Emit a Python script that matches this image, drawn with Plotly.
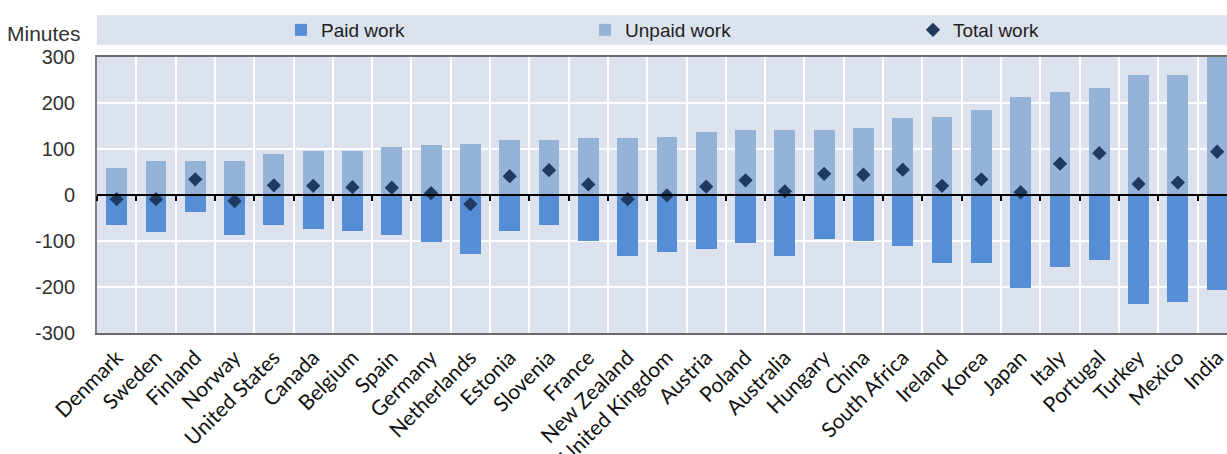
import plotly.graph_objects as go

countries = ["Denmark", "Sweden", "Finland", "Norway", "United States", "Canada", "Belgium",
             "Spain", "Germany", "Netherlands", "Estonia", "Slovenia", "France", "New Zealand",
             "United Kingdom", "Austria", "Poland", "Australia", "Hungary", "China",
             "South Africa", "Ireland", "Korea", "Japan", "Italy", "Portugal", "Turkey",
             "Mexico", "India"]

paid_work = [-65, -81, -38, -87, -65, -74, -78, -87, -102, -129, -78, -65, -99, -133,
             -123, -117, -105, -133, -95, -99, -111, -147, -147, -203, -157, -141, -236,
             -233, -206]

unpaid_work = [59, 74, 74, 74, 89, 96, 96, 105, 108, 111, 120, 120, 123, 123,
               126, 136, 141, 141, 141, 145, 167, 169, 184, 212, 224, 233, 260,
               260, 300]

total_work = [-9, -9, 34, -13, 21, 20, 17, 16, 4, -20, 41, 54, 23, -9,
              -1, 18, 32, 8, 46, 44, 55, 20, 34, 6, 68, 91, 24,
              27, 94]

y_ticks = [300, 200, 100, 0, -100, -200, -300]
y_tick_text = ["300", "200", "100", "0", "-100", "-200", "-300"]

PAID = "#558ED5"
UNPAID = "#95B3D7"
TOTAL = "#1F3A60"
BG = "#DCE3EF"
NARROW = "Liberation Sans Narrow, Arial Narrow, Liberation Sans, sans-serif"

fig = go.Figure()
fig.add_trace(go.Bar(x=countries, y=paid_work, name="Paid work", marker_color=PAID,
                     marker_line_width=0, width=0.53, legend="legend"))
fig.add_trace(go.Bar(x=countries, y=unpaid_work, name="Unpaid work", marker_color=UNPAID,
                     marker_line_width=0, width=0.53, legend="legend2"))
fig.add_trace(go.Scatter(x=countries, y=total_work, name="Total work", mode="markers",
                         marker=dict(symbol="diamond", size=11, color=TOTAL),
                         legend="legend3"))
# helper axis that draws the zero line with boundary ticks
fig.add_trace(go.Scatter(x=[], y=[], xaxis="x2", showlegend=False, hoverinfo="skip"))

n = len(countries)
xr = [-0.5, n - 0.75]
ly = (333 - 30) / 276
lfont = dict(family=NARROW, size=19, color="#222222")

fig.update_layout(
    width=1227, height=454,
    margin=dict(l=97, r=0, t=57, b=121, autoexpand=False),
    paper_bgcolor="white",
    plot_bgcolor=BG,
    barmode="relative",
    bargap=0,
    showlegend=True,
    xaxis=dict(
        type="category", categoryorder="array", categoryarray=countries,
        range=xr, tickson="boundaries", ticks="", tickangle=-45,
        ticklabelshift=0, ticklabelstandoff=2,
        showgrid=True, gridcolor="white", gridwidth=2,
        showline=True, mirror=True, linecolor="#6b6b6b", linewidth=2,
        tickfont=dict(family="Lato, Open Sans, sans-serif", size=21, color="#111111"),
        automargin=False,
    ),
    xaxis2=dict(
        overlaying="x", anchor="free", position=0.5, range=xr, type="linear",
        tickvals=[k - 0.5 for k in range(n)], showticklabels=False,
        ticks="outside", ticklen=5, tickwidth=1.5, tickcolor="black",
        showgrid=False, zeroline=False, showline=True, linecolor="black", linewidth=2,
    ),
    yaxis=dict(
        range=[-300, 300], tickvals=y_ticks, ticktext=y_tick_text,
        showgrid=True, gridcolor="white", gridwidth=2, zeroline=False,
        showline=True, linecolor="#7f7f7f", linewidth=2,
        ticks="outside", ticklen=16, tickcolor="rgba(0,0,0,0)",
        tickfont=dict(family=NARROW, size=20, color="#333333"),
        automargin=False,
    ),
    legend=dict(orientation="h", x=0.1628, xanchor="left", y=ly, yanchor="middle",
                bgcolor="rgba(0,0,0,0)", font=lfont),
    legend2=dict(orientation="h", x=0.4319, xanchor="left", y=ly, yanchor="middle",
                 bgcolor="rgba(0,0,0,0)", font=lfont),
    legend3=dict(orientation="h", x=0.7221, xanchor="left", y=ly, yanchor="middle",
                 bgcolor="rgba(0,0,0,0)", font=lfont),
    shapes=[dict(type="rect", xref="paper", yref="paper",
                 x0=0, x1=1, y0=(333 - 45) / 276, y1=(333 - 15) / 276,
                 fillcolor=BG, line_width=0, layer="below")],
    annotations=[dict(text="Minutes", xref="paper", yref="paper",
                      x=(83 - 97) / 1130, xanchor="right",
                      y=(333 - 33) / 276, yanchor="middle", showarrow=False,
                      font=dict(family=NARROW, size=21, color="#333333"))],
)

fig.write_html(
    "out.html",
    config={"displayModeBar": False},
    post_script="document.body.style.margin='0';document.body.style.overflow='hidden';",
)
